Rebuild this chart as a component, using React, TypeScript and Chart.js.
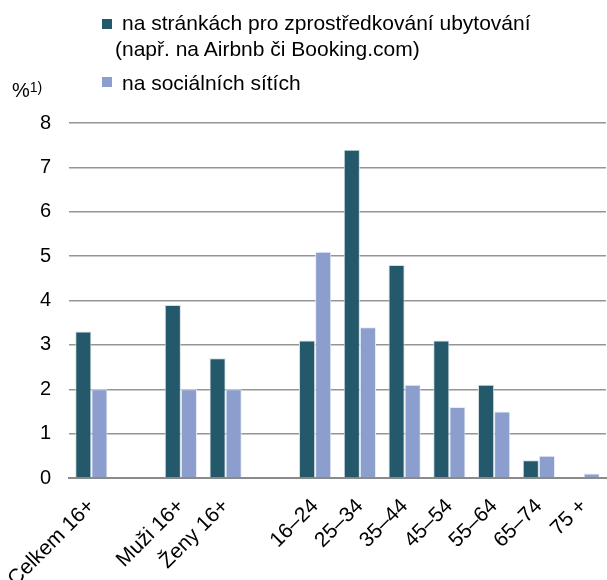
import React, { useEffect, useRef } from "react";
import { Chart, registerables } from "chart.js";

Chart.register(...registerables);

const categories = [
  "Celkem 16+",
  "",
  "Muži 16+",
  "Ženy 16+",
  "",
  "16–24",
  "25–34",
  "35–44",
  "45–54",
  "55–64",
  "65–74",
  "75 +",
];

const accommodationSites = [3.3, null, 3.9, 2.7, null, 3.1, 7.4, 4.8, 3.1, 2.1, 0.4, null];
const socialNetworks = [2.0, null, 2.0, 2.0, null, 5.1, 3.4, 2.1, 1.6, 1.5, 0.5, 0.1];

const seriesLabels = [
  "na stránkách pro zprostředkování ubytování",
  "(např. na Airbnb či Booking.com)",
  "na sociálních sítích",
];

const yTicks = [0, 1, 2, 3, 4, 5, 6, 7, 8];

const DARK = "#23596a";
const LIGHT = "#8c9ecd";
const FONT = "'Liberation Sans', Arial, sans-serif";

export default function App() {
  const ref = useRef<HTMLCanvasElement | null>(null);

  useEffect(() => {
    if (!ref.current) return;
    const chart = new Chart(ref.current, {
      type: "bar",
      data: {
        labels: categories,
        datasets: [
          {
            label: seriesLabels[0] + " " + seriesLabels[1],
            data: accommodationSites,
            backgroundColor: DARK,
            borderColor: "#d2dde2",
            borderWidth: 1,
            categoryPercentage: 0.72,
            barPercentage: 1,
          },
          {
            label: seriesLabels[2],
            data: socialNetworks,
            backgroundColor: LIGHT,
            borderColor: "#e6ebf6",
            borderWidth: 1,
            categoryPercentage: 0.72,
            barPercentage: 1,
          },
        ],
      },
      options: {
        responsive: false,
        animation: false,
        devicePixelRatio: 1,
        layout: { padding: { top: 123, right: 1, left: 0, bottom: 0 } },
        plugins: {
          legend: { display: false },
          tooltip: { enabled: false },
        },
        scales: {
          y: {
            min: yTicks[0],
            max: yTicks[yTicks.length - 1],
            afterBuildTicks: (scale: any) => {
              scale.ticks = yTicks.map((v) => ({ value: v }));
            },
            afterFit: (scale: any) => {
              scale.width = 69;
            },
            ticks: {
              color: "#000",
              font: { family: FONT, size: 20 },
              padding: 18,
            },
            grid: {
              color: "#959595",
              lineWidth: 1.5,
              drawTicks: false,
            },
            border: { display: false },
          },
          x: {
            afterFit: (scale: any) => {
              scale.height = 102;
              scale.paddingLeft = 0;
              scale.paddingRight = 0;
            },
            ticks: {
              color: "#000",
              font: { family: FONT, size: 21 },
              maxRotation: 45,
              minRotation: 45,
              autoSkip: false,
              padding: 16,
            },
            grid: { display: false, drawTicks: false },
            border: { display: true, color: "#8a8a8a", width: 2 },
          },
        },
      },
    });
    return () => chart.destroy();
  }, []);

  const textStyle: React.CSSProperties = {
    position: "absolute",
    fontFamily: FONT,
    fontSize: 21,
    lineHeight: "26.7px",
    color: "#000",
    whiteSpace: "nowrap",
  };

  return (
    <div
      style={{
        position: "fixed",
        left: 0,
        top: 0,
        width: 607,
        height: 580,
        background: "#fff",
      }}
    >
      <canvas ref={ref} width={607} height={580} style={{ position: "absolute", left: 0, top: 0 }} />
      <div style={{ position: "absolute", left: 102, top: 19, width: 10, height: 10, background: DARK }} />
      <div style={{ ...textStyle, left: 122, top: 9.5 }}>{seriesLabels[0]}</div>
      <div style={{ ...textStyle, left: 115, top: 36 }}>{seriesLabels[1]}</div>
      <div style={{ position: "absolute", left: 102, top: 77, width: 10, height: 10, background: LIGHT }} />
      <div style={{ ...textStyle, left: 122, top: 69.5 }}>{seriesLabels[2]}</div>
      <div style={{ ...textStyle, fontSize: 20, left: 12, top: 77 }}>
        %<span style={{ fontSize: 14, position: "relative", top: -5 }}>1)</span>
      </div>
    </div>
  );
}
